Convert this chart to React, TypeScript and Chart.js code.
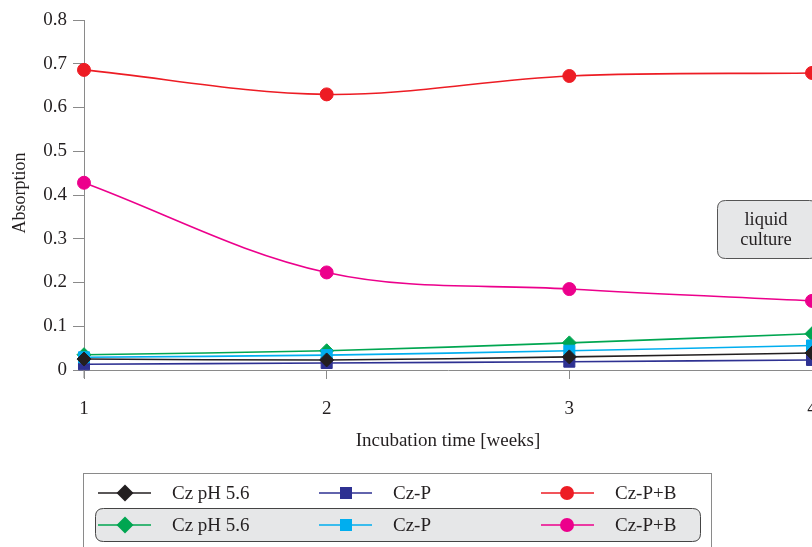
import React, { useEffect, useRef } from "react";
import { Chart, registerables } from "chart.js";

Chart.register(...registerables);

const weeks = [1, 2, 3, 4];
const yTicks = [0, 0.1, 0.2, 0.3, 0.4, 0.5, 0.6, 0.7, 0.8];

const czpB_red = [0.686, 0.63, 0.672, 0.679];
const czpB_magenta = [0.428, 0.223, 0.185, 0.158];
const czpH_green = [0.035, 0.044, 0.062, 0.083];
const czP_lightblue = [0.029, 0.034, 0.044, 0.056];
const czpH_black = [0.025, 0.023, 0.03, 0.039];
const czP_navy = [0.013, 0.016, 0.019, 0.023];

const labelPH = "Cz pH 5.6";
const labelP = "Cz-P";
const labelPB = "Cz-P+B";
const xTitle = "Incubation time [weeks]";
const yTitle = "Absorption";
const noteLines = ["liquid", "culture"];

const C = {
  red: "#ed1c24",
  magenta: "#ec008c",
  green: "#00a651",
  lightblue: "#00aeef",
  navy: "#2e3192",
  black: "#231f20",
};

const FONT = "'Liberation Serif', 'DejaVu Serif', serif";

function mk(label: string, data: number[], color: string, style: string, r: number) {
  return {
    label,
    data: data.map((v, i) => ({ x: weeks[i], y: v })),
    borderColor: color,
    backgroundColor: color,
    pointBackgroundColor: color,
    pointBorderColor: color,
    pointStyle: style,
    pointRadius: r,
    pointBorderWidth: 1,
    borderWidth: 1.6,
    tension: 0.35,
    clip: false as any,
  };
}

function drawMarker(ctx: CanvasRenderingContext2D, style: string, x: number, y: number, color: string) {
  ctx.fillStyle = color;
  ctx.beginPath();
  if (style === "circle") {
    ctx.arc(x, y, 7, 0, Math.PI * 2);
  } else if (style === "rect") {
    ctx.rect(x - 6, y - 6, 12, 12);
  } else {
    ctx.moveTo(x, y - 8.5);
    ctx.lineTo(x + 8.5, y);
    ctx.lineTo(x, y + 8.5);
    ctx.lineTo(x - 8.5, y);
    ctx.closePath();
  }
  ctx.fill();
}

function roundRect(ctx: CanvasRenderingContext2D, x: number, y: number, w: number, h: number, r: number) {
  ctx.beginPath();
  ctx.moveTo(x + r, y);
  ctx.lineTo(x + w - r, y);
  ctx.quadraticCurveTo(x + w, y, x + w, y + r);
  ctx.lineTo(x + w, y + h - r);
  ctx.quadraticCurveTo(x + w, y + h, x + w - r, y + h);
  ctx.lineTo(x + r, y + h);
  ctx.quadraticCurveTo(x, y + h, x, y + h - r);
  ctx.lineTo(x, y + r);
  ctx.quadraticCurveTo(x, y, x + r, y);
  ctx.closePath();
}

const decorPlugin = {
  id: "decor",
  afterDraw(chart: any) {
    const ctx: CanvasRenderingContext2D = chart.ctx;
    const ca = chart.chartArea;
    ctx.save();
    // y axis extension below zero
    ctx.strokeStyle = "#8a8a8a";
    ctx.lineWidth = 1;
    ctx.beginPath();
    ctx.moveTo(ca.left, ca.bottom);
    ctx.lineTo(ca.left, ca.bottom + 8);
    ctx.stroke();

    // axis titles
    ctx.fillStyle = C.black;
    ctx.font = `19px ${FONT}`;
    ctx.textAlign = "center";
    ctx.textBaseline = "middle";
    ctx.fillText(xTitle, 448, 441);
    ctx.save();
    ctx.font = `18px ${FONT}`;
    ctx.translate(20, 193);
    ctx.rotate(-Math.PI / 2);
    ctx.fillText(yTitle, 0, 0);
    ctx.restore();

    // note box
    roundRect(ctx, 717.5, 200.5, 100, 58, 8);
    ctx.fillStyle = "#e6e7e8";
    ctx.fill();
    ctx.strokeStyle = "#555";
    ctx.lineWidth = 1;
    ctx.stroke();
    ctx.fillStyle = C.black;
    ctx.font = `18.5px ${FONT}`;
    ctx.fillText(noteLines[0], 766, 220);
    ctx.fillText(noteLines[1], 766, 240);

    // legend
    ctx.strokeStyle = "#8a8a8a";
    ctx.lineWidth = 1;
    ctx.strokeRect(83.5, 473.5, 628, 100);
    roundRect(ctx, 95.5, 508.5, 605, 33, 8);
    ctx.fillStyle = "#e6e7e8";
    ctx.fill();
    ctx.strokeStyle = "#444";
    ctx.stroke();

    const cols = [
      { l0: 98, l1: 151, m: 125, t: 172 },
      { l0: 319, l1: 372, m: 346, t: 393 },
      { l0: 541, l1: 594, m: 567, t: 615 },
    ];
    const rows = [
      { y: 493, items: [[C.black, "rectRot", labelPH], [C.navy, "rect", labelP], [C.red, "circle", labelPB]] },
      { y: 525, items: [[C.green, "rectRot", labelPH], [C.lightblue, "rect", labelP], [C.magenta, "circle", labelPB]] },
    ];
    ctx.font = `19px ${FONT}`;
    ctx.textAlign = "left";
    rows.forEach((row) => {
      row.items.forEach((it, i) => {
        const col = cols[i];
        ctx.strokeStyle = it[0];
        ctx.lineWidth = 1.6;
        ctx.beginPath();
        ctx.moveTo(col.l0, row.y);
        ctx.lineTo(col.l1, row.y);
        ctx.stroke();
        drawMarker(ctx, it[1], col.m, row.y, it[0]);
        ctx.fillStyle = C.black;
        ctx.fillText(it[2], col.t, row.y + 1);
      });
    });
    ctx.restore();
  },
};

export default function App() {
  const ref = useRef<HTMLCanvasElement | null>(null);
  useEffect(() => {
    if (!ref.current) return;
    const chart = new Chart(ref.current, {
      type: "line",
      data: {
        datasets: [
          mk(labelPB, czpB_red, C.red, "circle", 6.5),
          mk(labelPB, czpB_magenta, C.magenta, "circle", 6.5),
          mk(labelPH, czpH_black, C.black, "rectRot", 7),
          mk(labelP, czP_lightblue, C.lightblue, "rect", 7.8),
          mk(labelPH, czpH_green, C.green, "rectRot", 7),
          mk(labelP, czP_navy, C.navy, "rect", 7.8),
        ] as any,
      },
      options: {
        animation: false,
        responsive: false,
        maintainAspectRatio: false,
        layout: { autoPadding: false, padding: { top: 20, right: 0, bottom: 0, left: 0 } },
        plugins: { legend: { display: false }, tooltip: { enabled: false } },
        scales: {
          x: {
            type: "linear",
            min: 1,
            max: 4,
            afterFit: (s: any) => {
              s.height = 177;
              s.paddingLeft = 0;
              s.paddingRight = 0;
            },
            afterBuildTicks: (s: any) => {
              s.ticks = weeks.map((v) => ({ value: v }));
            },
            ticks: {
              font: { family: FONT, size: 19 },
              color: C.black,
              padding: 19,
              maxRotation: 0,
              callback: (v: any) => String(v),
            },
            grid: { drawOnChartArea: false, drawTicks: true, tickLength: 9, color: "#8a8a8a" },
            border: { display: true, color: "#8a8a8a" },
          },
          y: {
            min: 0,
            max: 0.8,
            afterFit: (s: any) => {
              s.width = 84;
              s.paddingTop = 0;
              s.paddingBottom = 0;
            },
            afterBuildTicks: (s: any) => {
              s.ticks = yTicks.map((v) => ({ value: v }));
            },
            ticks: {
              font: { family: FONT, size: 19 },
              color: C.black,
              padding: 6,
              callback: (v: any) => (v === 0 ? "0" : Number(v).toFixed(1)),
            },
            grid: { drawOnChartArea: false, drawTicks: true, tickLength: 11, color: "#8a8a8a" },
            border: { display: true, color: "#8a8a8a" },
          },
        },
      } as any,
      plugins: [decorPlugin],
    });
    return () => chart.destroy();
  }, []);
  return (
    <div style={{ position: "fixed", left: 0, top: 0, width: 812, height: 547, background: "#fff" }}>
      <canvas ref={ref} width={812} height={547} />
    </div>
  );
}
